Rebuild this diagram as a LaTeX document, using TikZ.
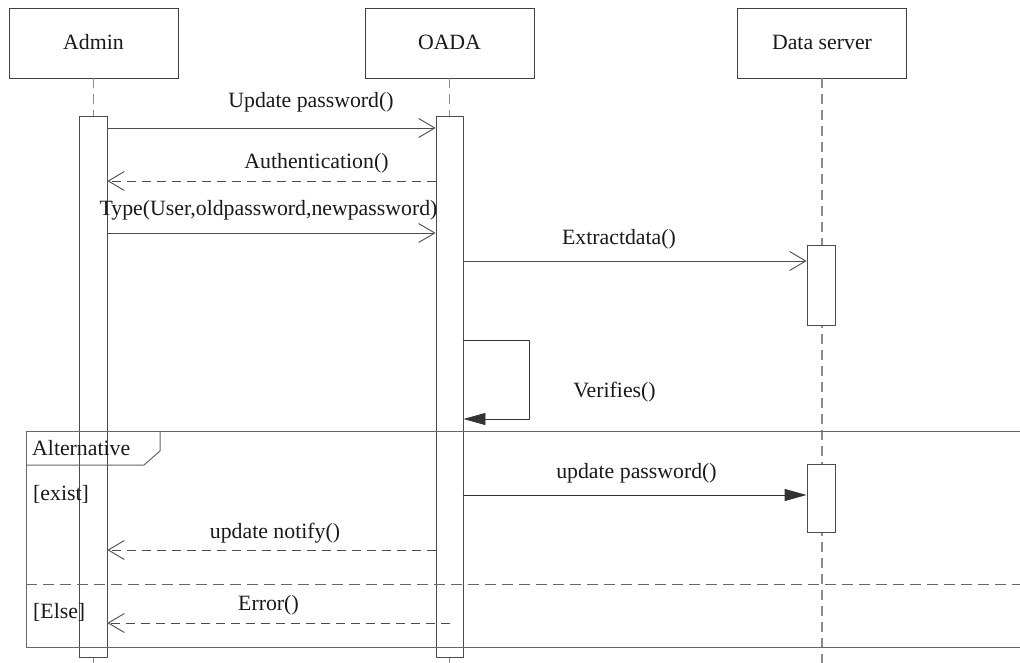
\documentclass[tikz,border=0pt]{standalone}
\usepackage{fontspec}
\setmainfont{Liberation Serif}
\usetikzlibrary{arrows.meta}
\begin{document}
\begin{tikzpicture}[x=1pt,y=-1pt,
  font=\fontsize{21.8}{26}\selectfont,
  head/.style={draw=black!75, line width=0.9pt, minimum width=169pt, minimum height=70pt, inner sep=0pt},
  act/.style={draw=black!70, fill=white, line width=0.9pt, minimum width=28pt, inner sep=0pt},
  life/.style={draw=black!45, line width=1.4pt, dash pattern=on 10pt off 6pt},
  msg/.style={draw=black!70, line width=0.9pt, -{Straight Barb[length=16pt,width=19pt]}},
  ret/.style={msg, dash pattern=on 9pt off 6pt},
  sync/.style={draw=black!80, line width=0.9pt, -{Triangle[length=22pt,width=12pt]}},
  frame/.style={draw=black!60, line width=1pt},
  lbl/.style={anchor=base, inner sep=0pt, text=black!90}]
\useasboundingbox (0,0) rectangle (1020,663);
% heads
\node[head] (hA) at (93.5,43) {};
\node[head] (hO) at (449.5,43) {};
\node[head] (hD) at (822,43) {};
\node[lbl] (tA) at (93.5,50) {Admin};
\node[lbl] (tO) at (449.5,50) {OADA};
\node[lbl] (tD) at (822,50) {Data server};
% lifelines
\coordinate (eA) at (93.5,663);
\coordinate (eO) at (449.5,663);
\coordinate (eD) at (822,663);
\draw[life] (hA.south) -- (eA);
\draw[life] (hO.south) -- (eO);
\draw[life] (hD.south) -- (eD);
% activations
\node[act, minimum height=541pt] (a) at (93,386.5) {};
\node[act, minimum width=27pt, minimum height=541pt] (o) at (449.5,386.5) {};
\node[act, minimum height=80pt] (d1) at (821,285) {};
\node[act, minimum height=68pt] (d2) at (821,498) {};
% alternative frame
\draw[frame] (1020,431) -- (26,431) -- (26,647) -- (1020,647);
\draw[frame] (26,465) -- (144,465) -- (160,451) -- (160,431);
\draw[frame, dash pattern=on 11pt off 6pt] (26,584) -- (1020,584);
\node[lbl, anchor=base west] (tAlt) at (32,455) {Alternative};
\node[lbl, anchor=base west] (tEx) at (33,500) {[exist]};
\node[lbl, anchor=base west] (tEl) at (33,618) {[Else]};
% messages
\draw[msg] (a.east |- 0,128) -- (o.west |- 0,128);
\node[lbl] (m1) at (311,108) {Update password()};
\draw[ret] (o.west |- 0,181) -- (a.east |- 0,181);
\node[lbl] (m2) at (316.5,169) {Authentication()};
\draw[msg] (a.east |- 0,233) -- (o.west |- 0,233);
\node[lbl] (m3) at (268.5,216) {Type(User,oldpassword,newpassword)};
\draw[msg] (o.east |- 0,261) -- (d1.west |- 0,261);
\node[lbl] (m4) at (619,244) {Extractdata()};
\coordinate (s3) at (o.east |- 0,419);
\draw[sync] (o.east |- 0,340) -- ++(66,0) |- (s3);
\node[lbl] (m5) at (614.5,397) {Verifies()};
\draw[sync] (o.east |- 0,495) -- (d2.west |- 0,495);
\node[lbl] (m6) at (636.5,478) {update password()};
\draw[ret] (o.west |- 0,550) -- (a.east |- 0,550);
\node[lbl] (m7) at (275,538) {update notify()};
\draw[ret] (o.center |- 0,623) -- (a.east |- 0,623);
\node[lbl] (m8) at (268.5,610) {Error()};
\end{tikzpicture}
\end{document}
